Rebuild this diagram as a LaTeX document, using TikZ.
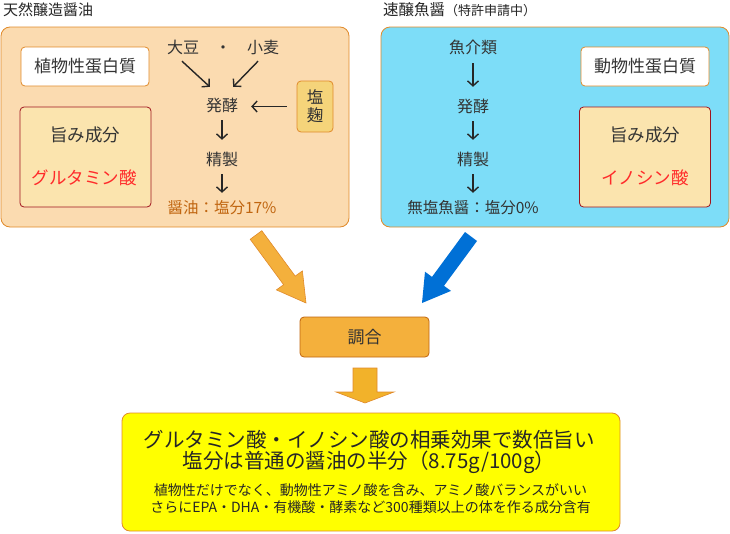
\documentclass[tikz,border=0pt]{standalone}
\usepackage{fontspec}
\setmainfont{Noto Sans CJK JP}
\usepackage{tikz}
\usetikzlibrary{arrows.meta, calc}
\usepackage{xcolor}

\definecolor{ink}{HTML}{333333}
\definecolor{edgeOrange}{HTML}{E08A2A}
\definecolor{natFill}{HTML}{FBDBB0}
\definecolor{fishFill}{HTML}{7DDDF8}
\definecolor{umamiFill}{HTML}{FBE4AE}
\definecolor{umamiEdge}{HTML}{A0141E}
\definecolor{kojiFill}{HTML}{F5D47A}
\definecolor{acidRed}{HTML}{FF2A2A}
\definecolor{saltBrown}{HTML}{C0650F}
\definecolor{blendFill}{HTML}{F4B03C}
\definecolor{dropFill}{HTML}{F2B22A}
\definecolor{fishBlue}{HTML}{0070D6}
\definecolor{resultFill}{HTML}{FFFF00}

\begin{document}
\begin{tikzpicture}[
    x=1pt, y=-1pt,
    every node/.style = {text=ink},
    panel/.style      = {rectangle, rounded corners=9pt, draw=edgeOrange, line width=0.8pt,
                         minimum width=348pt, minimum height=200pt},
    protbox/.style    = {rectangle, rounded corners=4pt, draw=edgeOrange, fill=white, line width=0.8pt,
                         minimum width=128pt, minimum height=39pt, font=\fontsize{17}{20}\selectfont},
    umamibox/.style   = {rectangle, rounded corners=4pt, draw=umamiEdge, fill=umamiFill, line width=0.8pt,
                         minimum width=131pt, minimum height=100pt},
    stage/.style      = {inner sep=0pt, text height=13pt, text depth=3pt, font=\fontsize{16}{18}\selectfont},
    acid/.style       = {inner sep=0pt, text=acidRed, font=\fontsize{17.5}{20}\selectfont},
    arr/.style        = {-{Straight Barb[length=5pt,width=11pt]}, line width=1.4pt, draw=black!85},
    blockarr/.style   = {line width=0.6pt, line join=miter},
]
\useasboundingbox (0,0) rectangle (730,533);

% Titles
\node[anchor=west, inner sep=0pt, text=black!85, font=\fontsize{15}{18}\selectfont] (titleNat) at (3,10) {天然醸造醤油};
\node[anchor=west, inner sep=0pt, text=black!85, font=\fontsize{15.5}{18}\selectfont] (titleFish) at (383,10)
    {速醸魚醤{\fontsize{13}{15}\selectfont（特許申請中）}};

% Natural brew panel
\node[panel, fill=natFill] (panelNat) at (175,127) {};
\node[protbox] (plantProt) at (85,66.5) {植物性蛋白質};
\node[umamibox] (umamiNat) at (85.5,157) {};
\node[stage, font=\fontsize{17.5}{20}\selectfont] (umamiNatT) at (85,136) {旨み成分};
\node[acid] (gluAcid) at (84,178) {グルタミン酸};

\node[stage] (soy)    at (183,48) {大豆};
\node[stage] (dotSep) at (223,48) {・};
\node[stage] (wheat)  at (263,48) {小麦};
\node[stage] (fermNat)   at (222,106) {発酵};
\node[stage] (refineNat) at (222,160) {精製};
\node[stage, text=saltBrown, font=\fontsize{15.5}{18}\selectfont] (shoyuNat) at (222,208) {醤油：塩分17\%};

\node[rectangle, rounded corners=4pt, draw=edgeOrange, fill=kojiFill, line width=0.8pt,
      minimum width=36pt, minimum height=51pt, inner sep=0pt, align=center,
      font=\fontsize{16.5}{18}\selectfont] (koji) at (315,106.5) {塩\\麹};

\draw[arr] ($(soy.south)+(-1,5)$) -- ($(fermNat.north west)+(4,-11)$);
\draw[arr] ($(wheat.south)+(-5,5)$) -- ($(fermNat.north east)+(-5,-11)$);
\draw[arr, shorten <=10pt, shorten >=13pt] (koji.west) -- (koji.west -| fermNat.east);
\draw[arr, shorten <=6pt, shorten >=12pt] (fermNat) -- (refineNat);
\draw[arr, shorten <=6pt, shorten >=7pt] (refineNat) -- (shoyuNat);

% Fish sauce panel
\node[panel, fill=fishFill] (panelFish) at (555,127) {};
\node[protbox] (animalProt) at (645,66.5) {動物性蛋白質};
\node[umamibox] (umamiFish) at (645,157) {};
\node[stage, font=\fontsize{17.5}{20}\selectfont] (umamiFishT) at (645,136) {旨み成分};
\node[acid] (inoAcid) at (645,178) {イノシン酸};

\node[stage] (fishSrc)    at (473,48)  {魚介類};
\node[stage] (fermFish)   at (473,107) {発酵};
\node[stage] (refineFish) at (473,160) {精製};
\node[stage, font=\fontsize{15.5}{18}\selectfont] (fishSauce) at (473,208) {無塩魚醤：塩分0\%};

\draw[arr, shorten <=7pt, shorten >=12pt] (fishSrc) -- (fermFish);
\draw[arr, shorten <=6pt, shorten >=12pt] (fermFish) -- (refineFish);
\draw[arr, shorten <=6pt, shorten >=7pt] (refineFish) -- (fishSauce);

% Block arrows into the blend
\filldraw[blockarr, fill=blendFill, draw=edgeOrange]
    (250.2,239.3) -- (283.6,284.7) -- (276.4,289.9) -- (306,303)
    -- (302.4,270.9) -- (295.2,276.1) -- (261.8,230.7) -- cycle;
\fill[fishBlue]
    (465,232) -- (432,276.9) -- (425,271.7) -- (422,303)
    -- (451,290.9) -- (444,285.8) -- (477,241) -- cycle;

\node[rectangle, rounded corners=4pt, draw=saltBrown, fill=blendFill, line width=0.8pt,
      minimum width=129pt, minimum height=40pt, font=\fontsize{17}{20}\selectfont] (blend) at (364.5,337) {調合};

\filldraw[blockarr, fill=dropFill, draw=edgeOrange]
    (353,368) -- (353,392) -- (336,392) -- (365,403) -- (394,392) -- (377,392) -- (377,368) -- cycle;

% Result
\node[rectangle, rounded corners=8pt, draw=edgeOrange, fill=resultFill, line width=0.8pt,
      minimum width=498pt, minimum height=118pt] (result) at (371,472) {};
\node[align=center, inner sep=0pt, text=black!85, font=\fontsize{20.5}{21}\selectfont] (resultHead) at (369,452)
    {グルタミン酸・イノシン酸の相乗効果で数倍旨い\\塩分は普通の醤油の半分（8.75g/100g）};
\node[align=center, inner sep=0pt, text=black!85, font=\fontsize{14}{17}\selectfont] (resultNote) at (370.5,498.5)
    {植物性だけでなく、動物性アミノ酸を含み、アミノ酸バランスがいい\\さらにEPA・DHA・有機酸・酵素など300種類以上の体を作る成分含有};

\end{tikzpicture}
\end{document}
